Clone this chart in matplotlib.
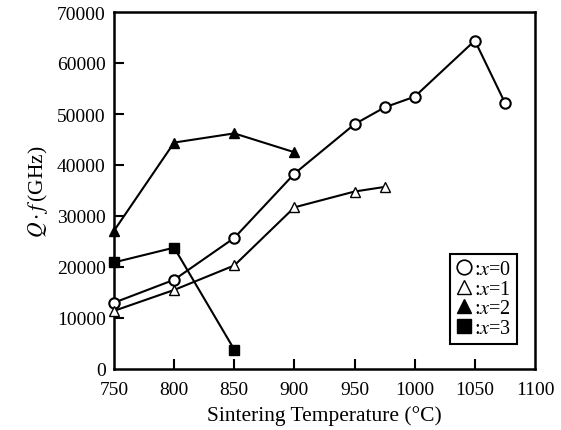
import matplotlib

matplotlib.use("Agg")
import matplotlib.pyplot as plt
from matplotlib.lines import Line2D

plt.rcParams["font.family"] = ["Liberation Serif", "DejaVu Serif"]
plt.rcParams["mathtext.fontset"] = "stix"

# Sintering temperature (C) and Q*f (GHz) per composition x
temp_x0 = [750, 800, 850, 900, 950, 975, 1000, 1050, 1075]
qf_x0 = [13000, 17500, 25700, 38300, 48000, 51300, 53400, 64400, 52200]

temp_x1 = [750, 800, 850, 900, 950, 975]
qf_x1 = [11400, 15500, 20300, 31700, 34800, 35700]

temp_x2 = [750, 800, 850, 900]
qf_x2 = [27100, 44400, 46200, 42500]

temp_x3 = [750, 800, 850]
qf_x3 = [20900, 23800, 3800]

x_ticks = [750, 800, 850, 900, 950, 1000, 1050, 1100]
y_ticks = [0, 10000, 20000, 30000, 40000, 50000, 60000, 70000]
legend_labels = [":$x$=0", ":$x$=1", ":$x$=2", ":$x$=3"]

fig = plt.figure(figsize=(5.61, 4.31), dpi=100)
ax = fig.add_axes([114 / 561, 1 - 370 / 431, 421 / 561, 357 / 431])

lw = 1.5
ax.plot(temp_x0, qf_x0, "-", color="black", lw=lw, marker="o", ms=7.5,
        mfc="white", mec="black", mew=1.5, zorder=3, clip_on=False)
ax.plot(temp_x1, qf_x1, "-", color="black", lw=lw, marker="^", ms=7.5,
        mfc="white", mec="black", mew=1.0, zorder=3, clip_on=False)
ax.plot(temp_x2, qf_x2, "-", color="black", lw=lw, marker="^", ms=7.5,
        mfc="black", mec="black", zorder=3, clip_on=False)
ax.plot(temp_x3, qf_x3, "-", color="black", lw=lw, marker="s", ms=6.5,
        mfc="black", mec="black", zorder=3, clip_on=False)

ax.set_xlim(750, 1100)
ax.set_ylim(0, 70000)
ax.set_xticks(x_ticks)
ax.set_yticks(y_ticks)
ax.tick_params(direction="in", length=7, width=1.5, labelsize=14,
               top=False, right=False)
ax.tick_params(axis="x", pad=9)
ax.tick_params(axis="y", pad=6)
for s in ax.spines.values():
    s.set_linewidth(1.8)

# hide the end ticks that sit on the frame corners
for t in ax.xaxis.get_major_ticks()[:1] + ax.xaxis.get_major_ticks()[-1:]:
    t.tick1line.set_visible(False)
for t in ax.yaxis.get_major_ticks()[:1] + ax.yaxis.get_major_ticks()[-1:]:
    t.tick1line.set_visible(False)

ax.set_xlabel("Sintering Temperature (°C)", fontsize=15.5, labelpad=5)
ax.set_ylabel(r"$Q \cdot f\,$(GHz)", fontsize=15.5, labelpad=5)

handles = [
    Line2D([], [], ls="none", marker="o", ms=10.5, mfc="white", mec="black", mew=1.2),
    Line2D([], [], ls="none", marker="^", ms=10.5, mfc="white", mec="black", mew=1.0),
    Line2D([], [], ls="none", marker="^", ms=10.5, mfc="black", mec="black"),
    Line2D([], [], ls="none", marker="s", ms=9.5, mfc="black", mec="black"),
]
leg = ax.legend(handles, legend_labels, loc="lower right",
                bbox_to_anchor=(0.957, 0.07), fontsize=14.5, frameon=True,
                fancybox=False, edgecolor="black", framealpha=1,
                handlelength=0.8, handletextpad=0.1, labelspacing=0.02,
                borderpad=0.3, borderaxespad=0)
leg.get_frame().set_linewidth(1.5)

fig.savefig("out.png", dpi=100)
